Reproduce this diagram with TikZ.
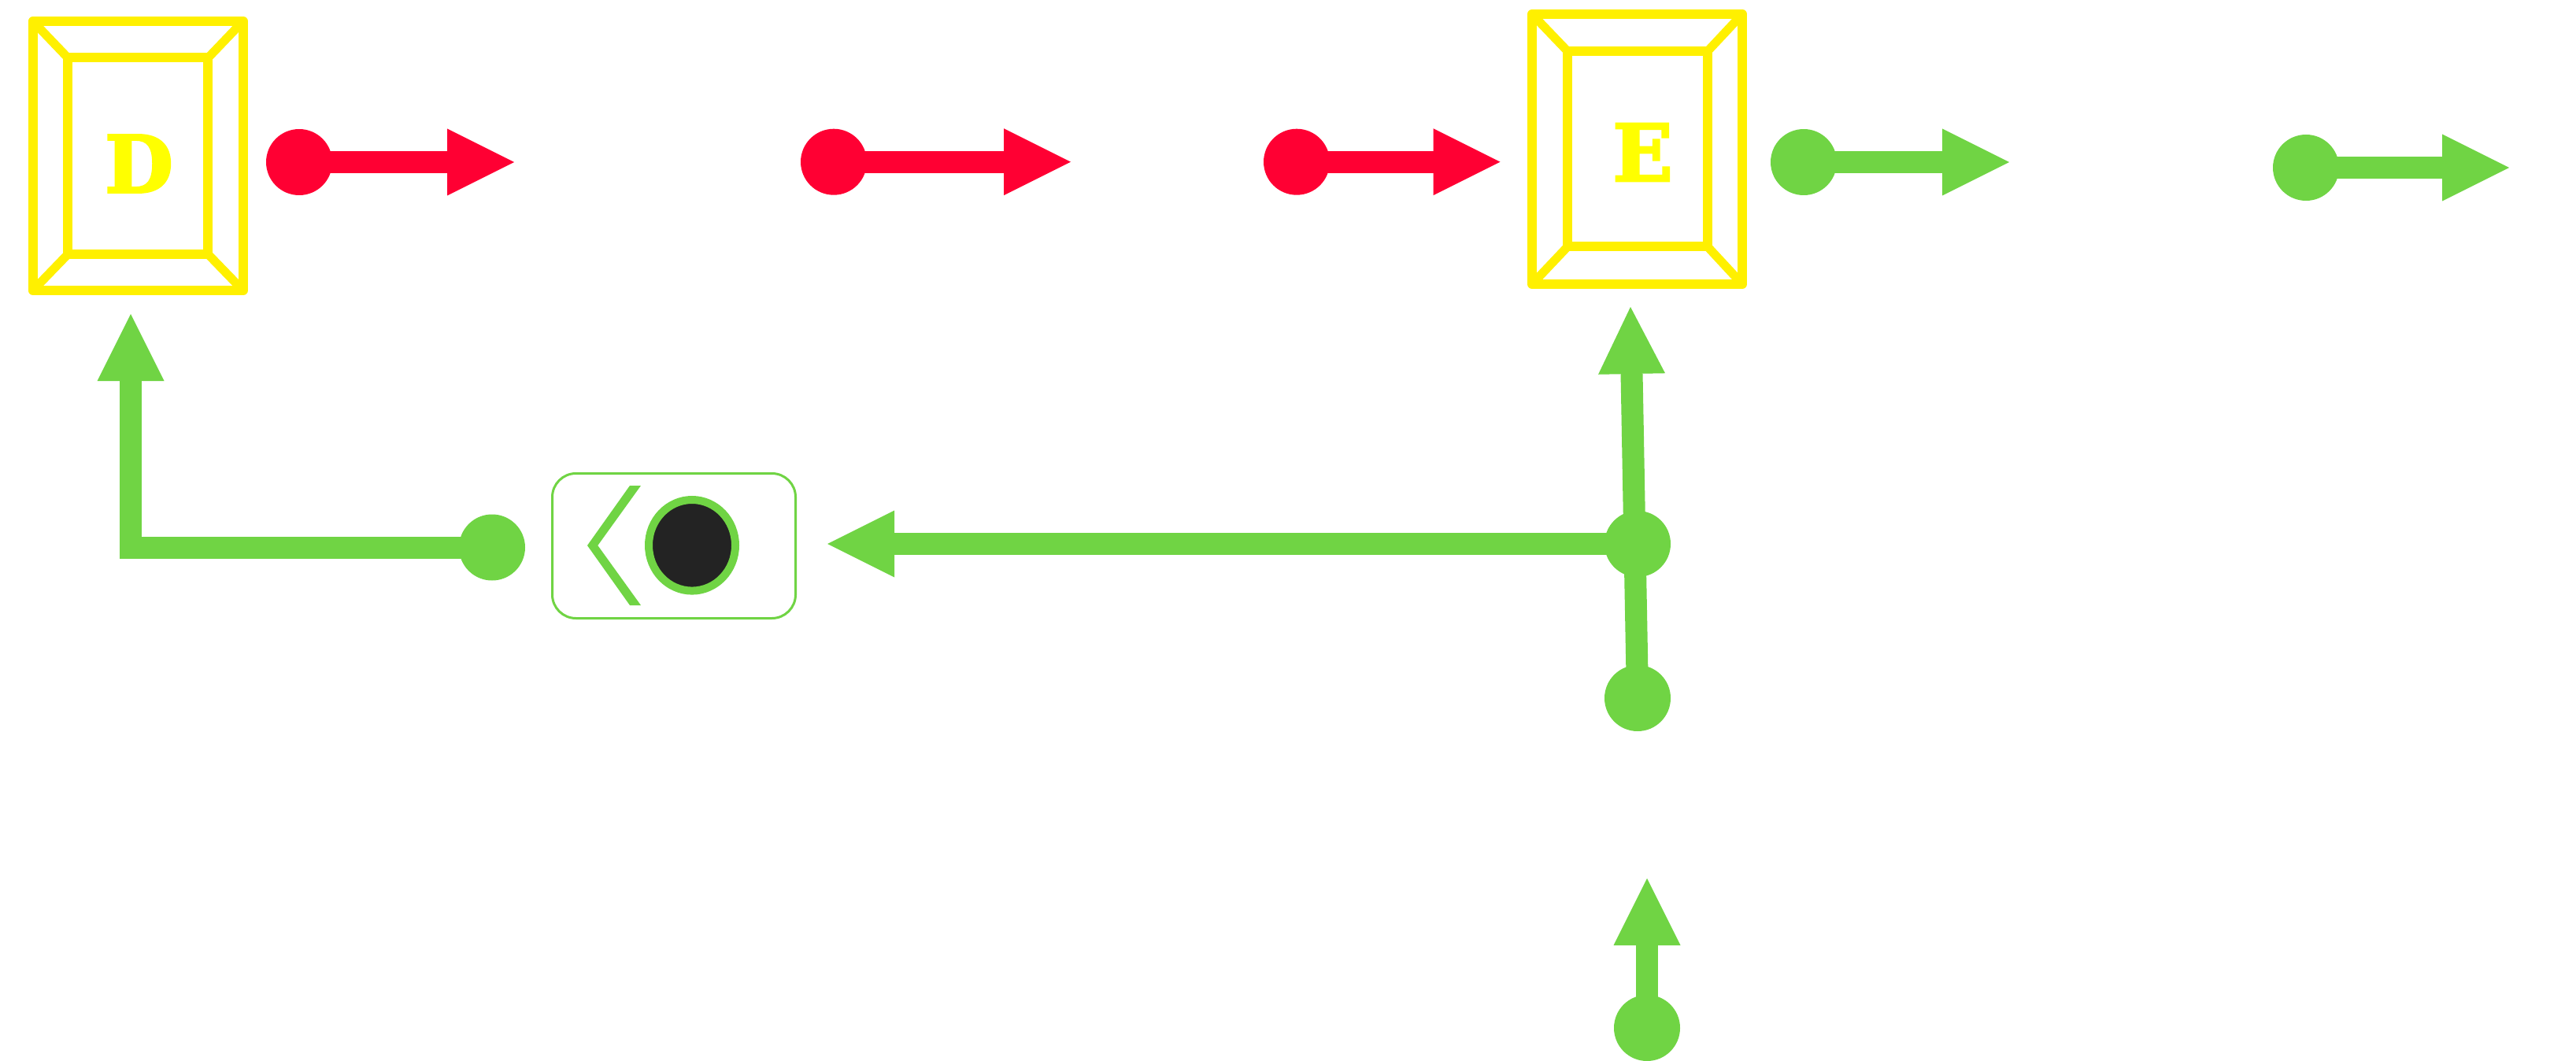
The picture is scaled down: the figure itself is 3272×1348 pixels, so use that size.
\documentclass[tikz,border=0pt]{standalone}
\usepackage{fontspec}
\setmainfont{DejaVu Serif}[BoldFeatures={FakeBold=3}]
\usetikzlibrary{arrows.meta,shapes.geometric}
\definecolor{frameyellow}{HTML}{FFF000}
\definecolor{textyellow}{HTML}{FFFF00}
\definecolor{conred}{HTML}{FF0033}
\definecolor{congreen}{HTML}{70D444}
\definecolor{coredark}{HTML}{232323}
\tikzset{
  framebox/.style={draw=frameyellow,line width=12pt,rectangle,inner sep=0pt,outer sep=0pt,line join=round},
  framediag/.style={draw=frameyellow,line width=11pt,line cap=round},
  boxletter/.style={text=textyellow,inner sep=0pt,font=\fontsize{100}{100}\selectfont\bfseries},
  reddot/.style={circle,fill=conred,inner sep=0pt,outer sep=0pt,minimum size=84pt},
  greendot/.style={circle,fill=congreen,inner sep=0pt,outer sep=0pt,minimum size=84pt},
  redarrow/.style={draw=conred,line width=28pt,-{Triangle[length=85pt,width=85pt,line width=0pt]}},
  greenarrow/.style={draw=congreen,line width=28pt,-{Triangle[length=85pt,width=85pt,line width=0pt]}},
  gatebox/.style={draw=congreen,fill=white,line width=3pt,rounded corners=30pt,minimum width=309pt,minimum height=184pt,inner sep=0pt,outer sep=0pt},
  gatecore/.style={draw=congreen,fill=coredark,line width=10pt,ellipse,minimum width=110pt,minimum height=115.6pt,inner sep=0pt,outer sep=0pt},
}
\begin{document}
\begin{tikzpicture}[x=1pt,y=-1pt]
\useasboundingbox[fill=white] (0,0) rectangle (3272,1348);
% box D
\node[framebox,minimum width=267pt,minimum height=342pt] (dout) at (175.25,198) {};
\node[framebox,minimum width=178pt,minimum height=249.5pt] (din) at (175.25,198.25) {};
\foreach \c in {north west,north east,south west,south east}
  \draw[framediag] (dout.\c) -- (din.\c);
\node[boxletter] (dlabel) at (176.5,208) {D};
% box E
\node[framebox,minimum width=267pt,minimum height=343pt] (eout) at (2079.5,189.5) {};
\node[framebox,minimum width=178pt,minimum height=248.5pt] (ein) at (2080,189.25) {};
\foreach \c in {north west,north east,south west,south east}
  \draw[framediag] (eout.\c) -- (ein.\c);
\node[boxletter] (elabel) at (2086.5,193.5) {E};
% top row
\node[reddot] (r1) at (380,206) {};
\coordinate (r1t) at (653,206);
\draw[redarrow] (r1.center) -- (r1t);
\node[reddot] (r2) at (1059,205.7) {};
\coordinate (r2t) at (1360,205.7);
\draw[redarrow] (r2.center) -- (r2t);
\node[reddot] (r3) at (1647,205.7) {};
\coordinate (r3t) at (1905.5,205.7);
\draw[redarrow] (r3.center) -- (r3t);
\node[greendot] (g1) at (2291,206) {};
\coordinate (g1t) at (2552,206);
\draw[greenarrow] (g1.center) -- (g1t);
\node[greendot] (g2) at (2929,213) {};
\coordinate (g2t) at (3187,213);
\draw[greenarrow] (g2.center) -- (g2t);
% elbow
\node[greendot] (gl) at (625,695.5) {};
\coordinate (glt) at (166,399);
\draw[greenarrow] (gl.center) -| (glt);
% gate
\node[gatebox] (gate) at (856,693.5) {};
\fill[congreen] (800,617) -- (814,617) -- (759.3,693) -- (814,769) -- (800,769) -- (746,693) -- cycle;
\node[gatecore] (core) at (879,692.8) {};
% right column
\node[greendot] (gb) at (2080,887) {};
\coordinate (get) at (2071,390);
\draw[greenarrow] (gb.center) -- (get);
\node[greendot] (gm) at (2080,691) {};
\coordinate (gmt) at (1051,691);
\draw[greenarrow] (gm.center) -- (gmt);
\node[greendot] (gc) at (2092,1306) {};
\coordinate (gct) at (2092,1116);
\draw[greenarrow] (gc.center) -- (gct);
\end{tikzpicture}
\end{document}
